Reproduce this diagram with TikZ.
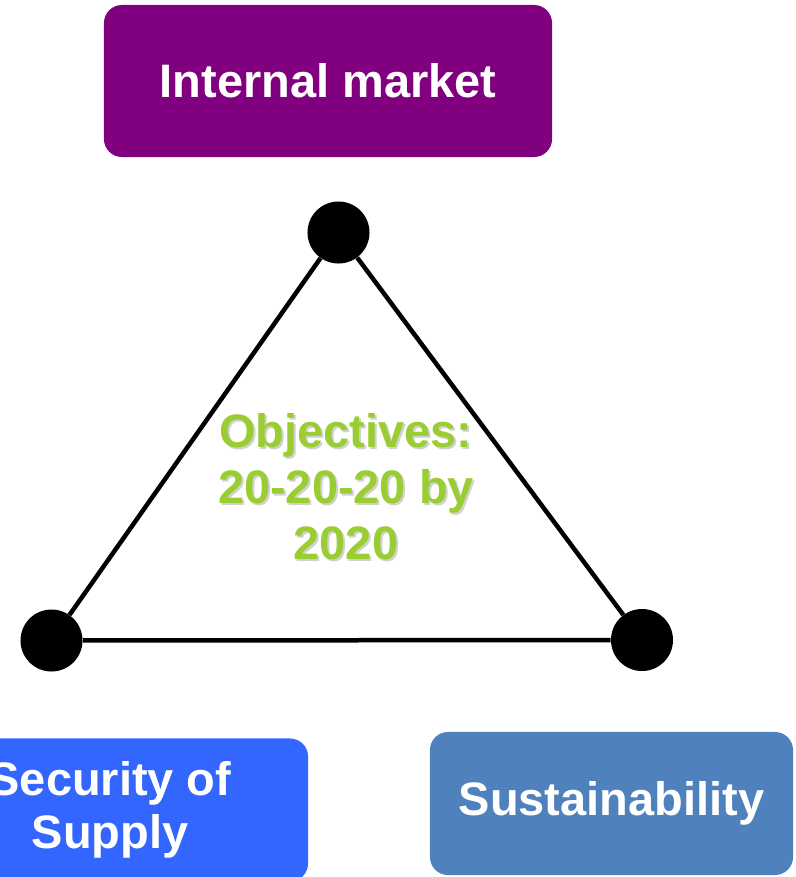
\documentclass[tikz,border=0pt]{standalone}
\usepackage{fontspec}
\setmainfont{Liberation Sans}
\definecolor{marketpurple}{RGB}{128,0,128}
\definecolor{supplyblue}{RGB}{51,102,255}
\definecolor{sustainblue}{RGB}{79,129,189}
\definecolor{objgreen}{RGB}{154,205,50}

\begin{document}
\begin{tikzpicture}[x=0.025cm, y=-0.025cm]
\tikzset{boite/.style={rectangle, rounded corners=0.45cm, text=white, align=center, inner sep=0pt,
  font=\bfseries\fontsize{33.4}{37.7}\selectfont},
  sommet/.style={circle, fill=black, inner sep=0pt, minimum size=1.55cm},
  objtexte/.style={align=center, inner sep=0pt, font=\bfseries\fontsize{33.4}{39.8}\selectfont}}
\useasboundingbox (0,0) rectangle (796,877);
\clip (0,0) rectangle (796,877);
\node[boite, fill=marketpurple, minimum width=11.2cm, minimum height=3.8cm] (M) at (328,81) {Internal market};
\node[boite, fill=supplyblue, minimum width=9.9cm, minimum height=3.575cm] (S) at (110,810) {Security of\\Supply};
\node[boite, fill=sustainblue, minimum width=9.075cm, minimum height=3.575cm] (D) at (611.5,803.5) {Sustainability};
\node[sommet] (V1) at (338.5,232.5) {};
\node[sommet] (V2) at (51.5,640.5) {};
\node[sommet] (V3) at (642,640) {};
\draw[line width=3.2pt] (V1) -- (V2);
\draw[line width=3.2pt] (V1) -- (V3);
\draw[line width=3.2pt] (V2) -- (V3);
\node[objtexte, text=black!18] (ombre) at (348,488.5) {Objectives:\\20-20-20 by\\2020};
\node[objtexte, text=objgreen] (obj) at (346,486.5) {Objectives:\\20-20-20 by\\2020};
\end{tikzpicture}
\end{document}
